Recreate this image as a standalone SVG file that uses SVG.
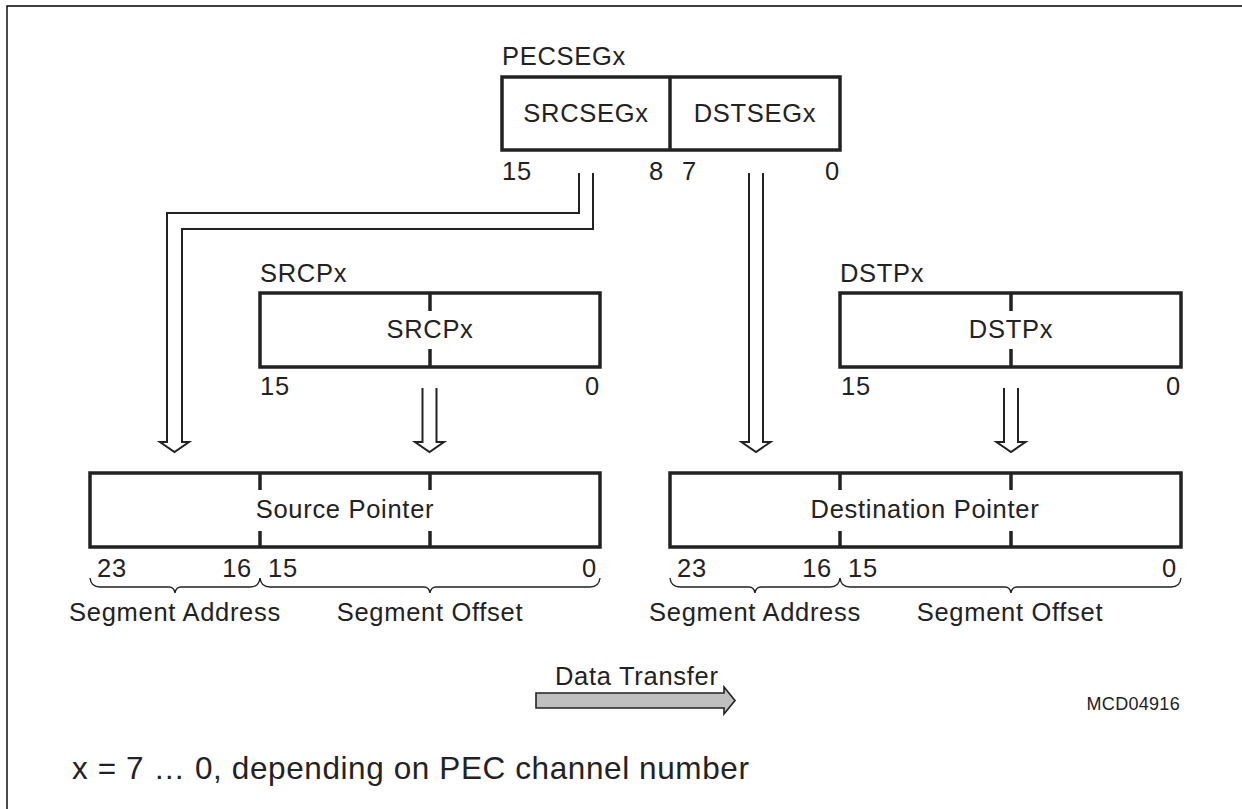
<svg xmlns="http://www.w3.org/2000/svg" width="1242" height="809" viewBox="0 0 1242 809">
<style>
text{font-family:"Liberation Sans",Arial,Helvetica,sans-serif;font-size:25.5px;letter-spacing:0.7px;fill:#222}
.m{text-anchor:middle}
.e{text-anchor:end}
.box{fill:#fff;stroke:#222;stroke-width:3.5}
.tick{stroke:#222;stroke-width:3.5}
.conn{fill:none;stroke:#222;stroke-width:2}
.brace{fill:none;stroke:#222;stroke-width:1.4}
</style>
<rect width="1242" height="809" fill="#fff"/>
<path d="M7,809 V6 H1242" fill="none" stroke="#000" stroke-width="1.4"/>

<g id="connectors">
  <path class="conn" d="M579,173 V213 H167 V442 H160 L174.5,452 L189,442 H182 V229 H593 V173"/>
  <path class="conn" d="M749,173 V442 H741.5 L756,452 L770.5,442 H763 V173"/>
  <path class="conn" d="M422.5,388 V442 H415 L429.5,452 L444,442 H436.5 V388"/>
  <path class="conn" d="M1004,388 V442 H996.5 L1011,452 L1025.5,442 H1018 V388"/>
</g>

<g id="pecseg">
  <text x="502" y="65">PECSEGx</text>
  <rect class="box" x="502" y="77" width="338" height="73"/>
  <line class="tick" x1="670" y1="77" x2="670" y2="150"/>
  <text class="m" x="586" y="122">SRCSEGx</text>
  <text class="m" x="755" y="122">DSTSEGx</text>
  <text x="502" y="180">15</text>
  <text class="e" x="664" y="180">8</text>
  <text x="682" y="180">7</text>
  <text class="e" x="840" y="180">0</text>
</g>

<g id="srcp">
  <text x="260" y="282">SRCPx</text>
  <rect class="box" x="260" y="293" width="340" height="74"/>
  <line class="tick" x1="430" y1="293" x2="430" y2="311"/>
  <line class="tick" x1="430" y1="349" x2="430" y2="367"/>
  <text class="m" x="430" y="338">SRCPx</text>
  <text x="260" y="395">15</text>
  <text class="e" x="600" y="395">0</text>
</g>

<g id="dstp">
  <text x="840" y="282">DSTPx</text>
  <rect class="box" x="840" y="293" width="341" height="74"/>
  <line class="tick" x1="1011" y1="293" x2="1011" y2="311"/>
  <line class="tick" x1="1011" y1="349" x2="1011" y2="367"/>
  <text class="m" x="1011" y="338">DSTPx</text>
  <text x="841" y="395">15</text>
  <text class="e" x="1181" y="395">0</text>
</g>

<g id="source-pointer">
  <rect class="box" x="90" y="473" width="510" height="74"/>
  <line class="tick" x1="260" y1="473" x2="260" y2="490"/>
  <line class="tick" x1="260" y1="531" x2="260" y2="547"/>
  <line class="tick" x1="430" y1="473" x2="430" y2="490"/>
  <line class="tick" x1="430" y1="531" x2="430" y2="547"/>
  <text class="m" x="345" y="518">Source Pointer</text>
  <text x="97" y="577">23</text>
  <text class="e" x="252" y="577">16</text>
  <text x="268" y="577">15</text>
  <text class="e" x="597" y="577">0</text>
  <path class="brace" d="M90,578 Q91,587 100,587 H169 Q174,587 175,593 Q176,587 181,587 H250 Q259,587 260,578"/>
  <path class="brace" d="M260,578 Q261,587 270,587 H424 Q429,587 430,593 Q431,587 436,587 H590 Q599,587 600,578"/>
  <text class="m" x="175" y="621">Segment Address</text>
  <text class="m" x="430" y="621">Segment Offset</text>
</g>

<g id="destination-pointer">
  <rect class="box" x="670" y="473" width="511" height="74"/>
  <line class="tick" x1="840" y1="473" x2="840" y2="490"/>
  <line class="tick" x1="840" y1="531" x2="840" y2="547"/>
  <line class="tick" x1="1011" y1="473" x2="1011" y2="490"/>
  <line class="tick" x1="1011" y1="531" x2="1011" y2="547"/>
  <text class="m" x="925" y="518">Destination Pointer</text>
  <text x="677" y="577">23</text>
  <text class="e" x="832" y="577">16</text>
  <text x="848" y="577">15</text>
  <text class="e" x="1177" y="577">0</text>
  <path class="brace" d="M670,578 Q671,587 680,587 H749 Q754,587 755,593 Q756,587 761,587 H830 Q839,587 840,578"/>
  <path class="brace" d="M840,578 Q841,587 850,587 H1005 Q1010,587 1011,593 Q1012,587 1017,587 H1171 Q1180,587 1181,578"/>
  <text class="m" x="755" y="621">Segment Address</text>
  <text class="m" x="1010" y="621">Segment Offset</text>
</g>

<g id="data-transfer">
  <text x="555" y="685">Data Transfer</text>
  <path d="M536,693 H724 V687 L735,700.5 L724,714 V708 H536 Z" fill="#c0c0c0" stroke="#222" stroke-width="1.6"/>
</g>

<text id="figure-id" class="e" x="1180" y="710" style="font-size:18px;letter-spacing:0.3px">MCD04916</text>
<text id="note" x="72" y="779" style="font-size:31.5px;letter-spacing:0.6px">x = 7 … 0, depending on PEC channel number</text>
</svg>
